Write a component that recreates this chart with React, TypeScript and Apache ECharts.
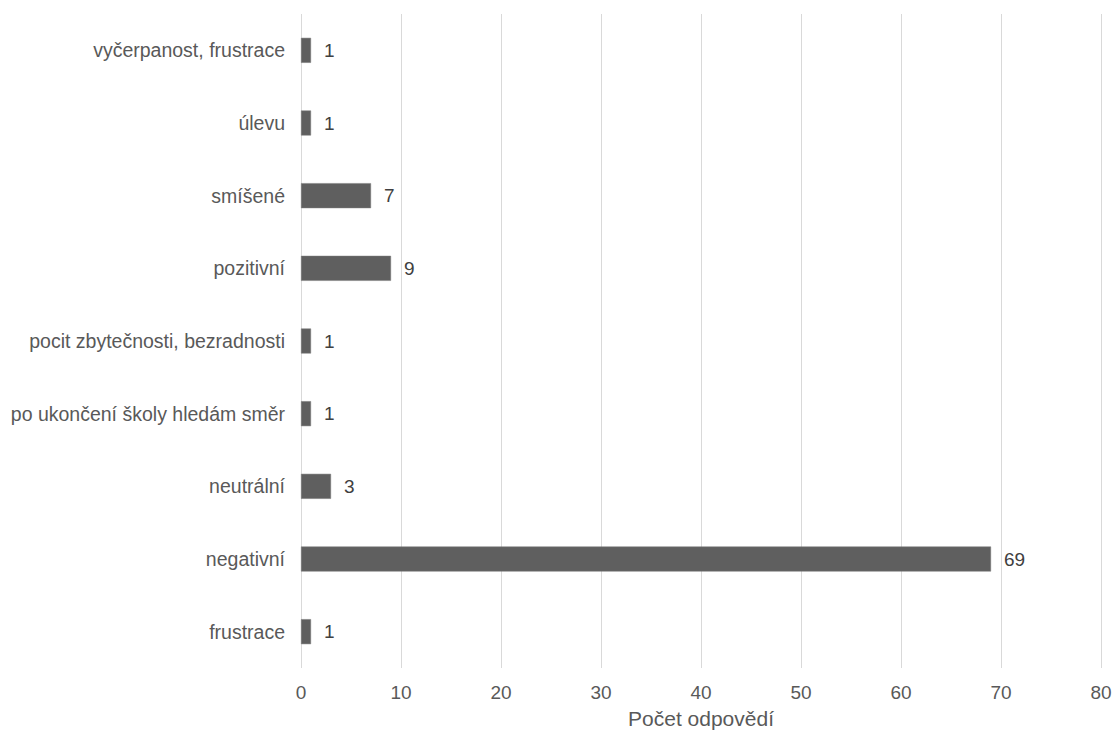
import React, { useEffect, useRef } from "react";
import * as echarts from "echarts";

const categories = [
  "frustrace",
  "negativní",
  "neutrální",
  "po ukončení školy hledám směr",
  "pocit zbytečnosti, bezradnosti",
  "pozitivní",
  "smíšené",
  "úlevu",
  "vyčerpanost, frustrace",
];
const values = [1, 69, 3, 1, 1, 9, 7, 1, 1];
const axisName = "Počet odpovědí";

export default function App() {
  const ref = useRef<HTMLDivElement>(null);
  useEffect(() => {
    if (!ref.current) return;
    const chart = echarts.init(ref.current, undefined, { renderer: "svg" });
    const font = "Liberation Sans";
    chart.setOption({
      animation: false,
      grid: {
        left: 301,
        right: 15,
        top: 14,
        bottom: 63,
        containLabel: false,
        outerBoundsMode: "none",
      },
      xAxis: {
        type: "value",
        min: 0,
        max: 80,
        interval: 10,
        name: axisName,
        nameLocation: "middle",
        nameGap: 40,
        nameTextStyle: { fontFamily: font, fontSize: 21, color: "#595959" },
        axisLine: { show: false },
        axisTick: { show: false },
        axisLabel: { fontFamily: font, fontSize: 19, color: "#595959", margin: 15 },
        splitLine: { show: true, lineStyle: { color: "#d9d9d9", width: 1 } },
      },
      yAxis: {
        type: "category",
        data: categories,
        axisLine: { show: false },
        axisTick: { show: false },
        axisLabel: { fontFamily: font, fontSize: 19.5, color: "#595959", margin: 16 },
        splitLine: { show: false },
      },
      series: [
        {
          type: "bar",
          data: values,
          barWidth: 25,
          itemStyle: { color: "#5f5f5f", borderColor: "#7a7a7a", borderWidth: 0.5 },
          label: {
            show: true,
            position: "right",
            distance: 13,
            fontFamily: font,
            fontSize: 19,
            color: "#404040",
          },
        },
      ],
    });
    return () => chart.dispose();
  }, []);
  return (
    <div
      ref={ref}
      style={{ position: "absolute", left: 0, top: 0, width: 1116, height: 731, background: "#fff" }}
    />
  );
}
